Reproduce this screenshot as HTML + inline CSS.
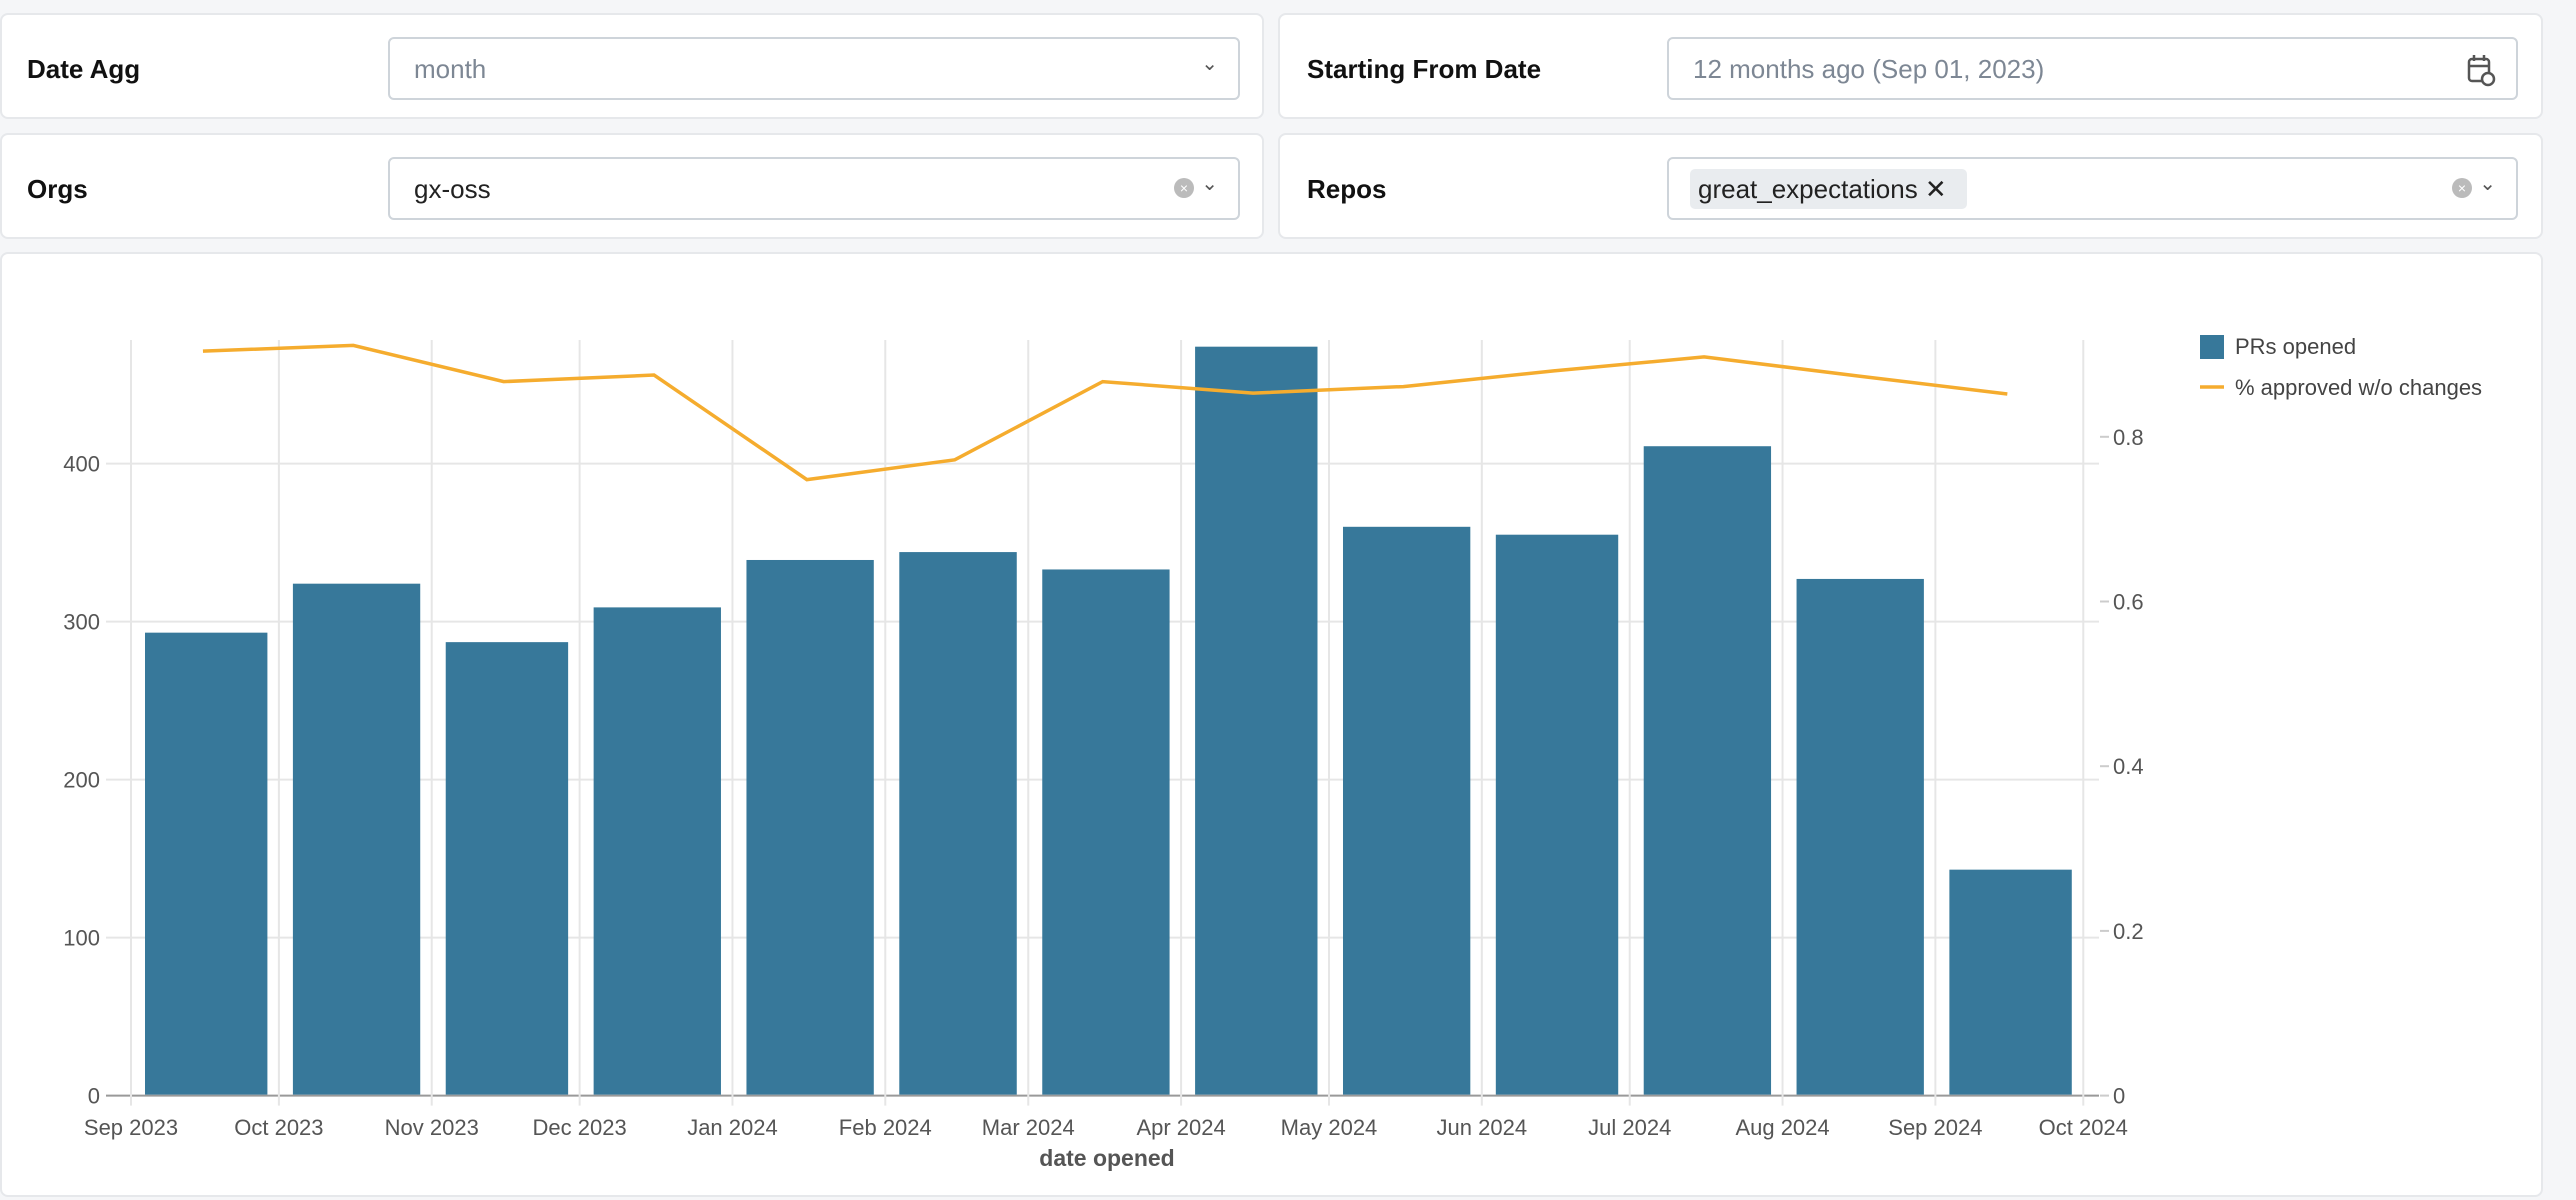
<!DOCTYPE html>
<html><head><meta charset="utf-8">
<style>
body{margin:0;width:2576px;height:1200px;background:#f5f6f8;font-family:"Liberation Sans",sans-serif;position:relative;overflow:hidden}
.card{position:absolute;background:#fff;border:2px solid #e6e8eb;border-radius:8px;box-sizing:border-box}
.lbl{position:absolute;font-weight:bold;font-size:26px;color:#111}
.sel{position:absolute;border:2px solid #ced4da;border-radius:6px;background:#fff;box-sizing:border-box}
.val{position:absolute;font-size:26px;top:15px;left:24px}
.chev{position:absolute;font-size:20px;color:#555;top:12px}
.clr{position:absolute;width:20px;height:20px;border-radius:50%;background:#bbb;color:#fff;font-size:14px;text-align:center;line-height:20px;top:19px}
</style></head><body>
<div class="card" style="left:0;top:13px;width:1264px;height:106px">
 <div class="lbl" style="left:25px;top:39px">Date Agg</div>
 <div class="sel" style="left:386px;top:22px;width:852px;height:63px">
  <div class="val" style="color:#7d8794">month</div><div class="chev" style="right:20px">&#8964;</div></div>
</div>
<div class="card" style="left:0;top:133px;width:1264px;height:106px">
 <div class="lbl" style="left:25px;top:39px">Orgs</div>
 <div class="sel" style="left:386px;top:22px;width:852px;height:63px">
  <div class="val" style="color:#222">gx-oss</div><div class="clr" style="right:44px">×</div><div class="chev" style="right:20px">&#8964;</div></div>
</div>
<div class="card" style="left:1278px;top:13px;width:1265px;height:106px">
 <div class="lbl" style="left:27px;top:39px">Starting From Date</div>
 <div class="sel" style="left:387px;top:22px;width:851px;height:63px">
  <div class="val" style="color:#7d8794">12 months ago (Sep 01, 2023)</div>
  <svg style="position:absolute;right:20px;top:14px" width="30" height="34" viewBox="0 0 30 34"><rect x="3" y="6" width="20" height="22" rx="3" fill="none" stroke="#555" stroke-width="2.5"/><line x1="3" y1="13" x2="23" y2="13" stroke="#555" stroke-width="2.5"/><line x1="8" y1="2" x2="8" y2="8" stroke="#555" stroke-width="2.5"/><line x1="18" y1="2" x2="18" y2="8" stroke="#555" stroke-width="2.5"/><circle cx="22" cy="26" r="6" fill="#fff" stroke="#555" stroke-width="2.5"/></svg></div>
</div>
<div class="card" style="left:1278px;top:133px;width:1265px;height:106px">
 <div class="lbl" style="left:27px;top:39px">Repos</div>
 <div class="sel" style="left:387px;top:22px;width:851px;height:63px">
  <div style="position:absolute;left:21px;top:10px;width:277px;height:40px;background:#e9ecef;border-radius:5px;font-size:26px;line-height:40px;padding-left:8px;box-sizing:border-box;color:#222">great_expectations&nbsp;✕</div>
  <div class="clr" style="right:44px">×</div><div class="chev" style="right:20px">&#8964;</div></div>
</div>
<div class="card" style="left:0;top:252px;width:2543px;height:945px"></div>
<svg style="position:absolute;left:0;top:0" width="2576" height="1200" id="chart"></svg>
<script>
const months=["Sep 2023","Oct 2023","Nov 2023","Dec 2023","Jan 2024","Feb 2024","Mar 2024","Apr 2024","May 2024","Jun 2024","Jul 2024","Aug 2024","Sep 2024","Oct 2024"];
const monthDays=[30,31,30,31,31,29,31,30,31,30,31,31,30];
const prsOpened=[293,324,287,309,339,344,333,474,360,355,411,327,143];
const pctApproved=[0.904,0.911,0.867,0.875,0.748,0.772,0.867,0.853,0.861,0.880,0.897,0.874,0.852];
const leftTicks=[0,100,200,300,400];
const rightTicks=[0,0.2,0.4,0.6,0.8];
const svg=document.getElementById('chart');const NS='http://www.w3.org/2000/svg';
const X0=131,PXD=4.93,Y0=1095.6,TOP=340;
const yL=v=>Y0-v*1.58, yR=v=>Y0-v*823.5;
const starts=[0];monthDays.forEach((d,i)=>starts.push(starts[i]+d));
const xD=d=>X0+d*PXD;
function mk(t,a,name,txt){const e=document.createElementNS(NS,t);for(const k in a)e.setAttribute(k,a[k]);


if(txt!==undefined)e.textContent=txt;svg.appendChild(e);return e;}
leftTicks.forEach(v=>{mk('line',{x1:106,x2:2099,y1:yL(v),y2:yL(v),stroke:v?'#e6e6e6':'#999','stroke-width':2},'y-gridline');
mk('text',{x:100,y:yL(v)+8,'text-anchor':'end','font-size':22,fill:'#555','font-family':'Liberation Sans'},'y-tick-label',String(v));});
starts.forEach((s,i)=>{mk('line',{x1:xD(s),x2:xD(s),y1:TOP,y2:Y0+10,stroke:'#e6e6e6','stroke-width':2},'x-gridline');
mk('text',{x:xD(s),y:1135,'text-anchor':'middle','font-size':22,fill:'#555','font-family':'Liberation Sans'},'x-tick-label',months[i]);});
rightTicks.forEach(v=>{mk('line',{x1:2100,x2:2109,y1:yR(v),y2:yR(v),stroke:'#ccc','stroke-width':2},'y2-tick');
mk('text',{x:2113,y:yR(v)+8,'font-size':22,fill:'#555','font-family':'Liberation Sans'},'y2-tick-label',String(v));});
prsOpened.forEach((v,i)=>{const a=xD(starts[i])+14,b=xD(starts[i+1])-11.5;
mk('rect',{x:a,y:yL(v),width:b-a,height:yL(0)-yL(v)-1,fill:'#37789a'},'bar-'+months[i].toLowerCase().replace(' ','-'));});
const pts=pctApproved.map((v,i)=>(xD((starts[i]+starts[i+1])/2)-2)+','+yR(v)).join(' ');
mk('polyline',{points:pts,fill:'none',stroke:'#f5ac2e','stroke-width':3.5},'approved-line');
mk('text',{x:1107,y:1166,'text-anchor':'middle','font-size':23,'font-weight':'bold',fill:'#555','font-family':'Liberation Sans'},'x-axis-title','date opened');
mk('rect',{x:2200,y:335,width:24,height:24,fill:'#37789a'},'legend-prs-swatch');
mk('text',{x:2235,y:354,'font-size':22,fill:'#444','font-family':'Liberation Sans'},'legend-prs-opened','PRs opened');
mk('line',{x1:2200,x2:2224,y1:387,y2:387,stroke:'#f5ac2e','stroke-width':3.5},'legend-approved-swatch');
mk('text',{x:2235,y:395,'font-size':22,fill:'#444','font-family':'Liberation Sans'},'legend-approved','% approved w/o changes');
</script>
</body></html>
